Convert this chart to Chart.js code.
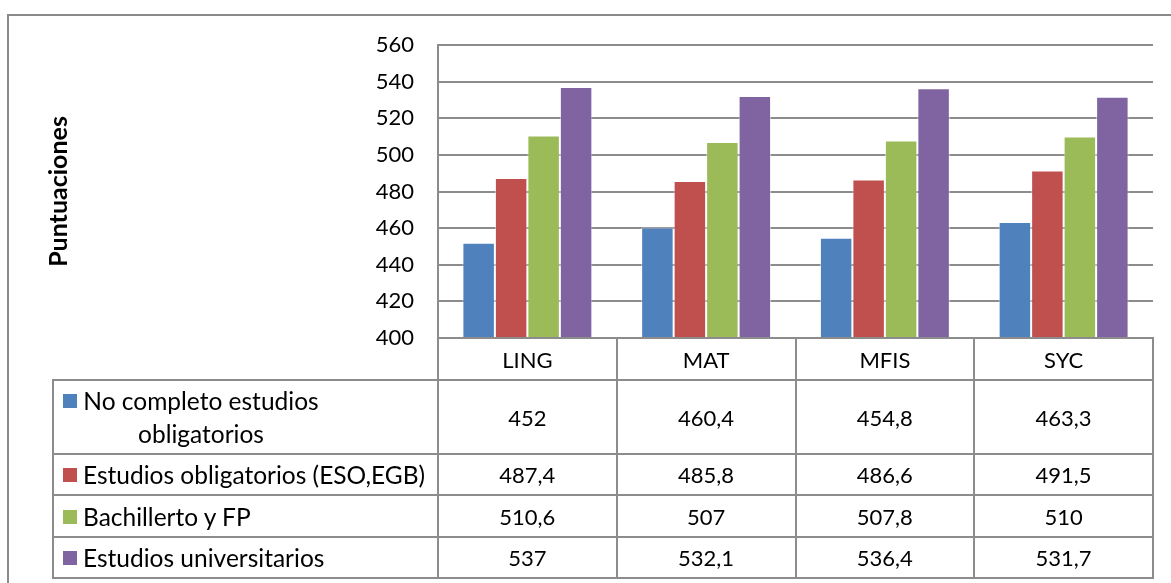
<!DOCTYPE html>
<html>
<head>
<meta charset="utf-8">
<script src="https://cdn.jsdelivr.net/npm/chart.js@4.4.1/dist/chart.umd.min.js"></script>
<style>
  html, body { margin: 0; padding: 0; background: #fff; overflow: hidden; }
  #wrap { position: relative; width: 1171px; height: 583px; overflow: hidden; font-family: Lato, sans-serif; }
  #frame { position: absolute; left: 7px; top: 14px; width: 1300px; height: 700px; border: 2px solid #8a8a8a; }
  #chart { position: absolute; left: 0; top: 0; }
  .cell { position: absolute; box-sizing: border-box; border: 2px solid #8c8c8c; display: flex; align-items: center; justify-content: center; font-size: 22px; color: #000; background: transparent; }
  .lab { justify-content: flex-start; padding-left: 9px; font-size: 24.5px; }
  .key { width: 14px; height: 14px; flex: none; margin-right: 6px; }
  .lab .inner { display: flex; align-items: flex-start; }
  .lab .inner .key { margin-top: 10px; }
  .lab .txt { display: inline-block; text-align: center; line-height: 33px; white-space: nowrap; }
  .lab .txt.wrap { white-space: normal; max-width: 236px; }
</style>
</head>
<body>
<div id="wrap">
  <div id="frame"></div>
  <canvas id="chart" width="1171" height="583"></canvas>
</div>
<script>
// data
const categories = ["LING", "MAT", "MFIS", "SYC"];
const seriesNames = [
  "No completo estudios obligatorios",
  "Estudios obligatorios (ESO,EGB)",
  "Bachillerto y FP",
  "Estudios universitarios"
];
const noCompleto = [452, 460.4, 454.8, 463.3];
const obligatorios = [487.4, 485.8, 486.6, 491.5];
const bachillerato = [510.6, 507, 507.8, 510];
const universitarios = [537, 532.1, 536.4, 531.7];
const seriesColors = ["#4F81BD", "#C0504D", "#9BBB59", "#8064A2"];
const yTicks = { min: 400, max: 560, step: 20 };

const seriesValues = [noCompleto, obligatorios, bachillerato, universitarios];
const gridGray = "#8c8c8c";

// table rows (top of header row is the axis line)
const rowHeights = [42, 74, 41, 42, 41];
const tableLeft = 53;

function fmt(v) {
  return String(v).replace(".", ",");
}

function buildTable(chart) {
  const wrap = document.getElementById("wrap");
  const area = chart.chartArea;
  const xs = chart.scales.x;
  const half = (xs.getPixelForValue(1) - xs.getPixelForValue(0)) / 2;

  const colEdges = [tableLeft, area.left];
  categories.forEach((c, i) => colEdges.push(xs.getPixelForValue(i) + half));
  colEdges[colEdges.length - 1] = area.right;

  const rowEdges = [area.bottom];
  rowHeights.forEach(h => rowEdges.push(rowEdges[rowEdges.length - 1] + h));

  function cell(r, c) {
    const d = document.createElement("div");
    d.className = "cell";
    d.style.left = (colEdges[c] - 1) + "px";
    d.style.top = (rowEdges[r] - 1) + "px";
    d.style.width = (colEdges[c + 1] - colEdges[c] + 2) + "px";
    d.style.height = (rowEdges[r + 1] - rowEdges[r] + 2) + "px";
    wrap.appendChild(d);
    return d;
  }

  // header row
  categories.forEach((c, i) => {
    cell(0, i + 1).textContent = c;
  });

  // series rows
  seriesNames.forEach((name, s) => {
    const lab = cell(s + 1, 0);
    lab.classList.add("lab");
    const inner = document.createElement("div");
    inner.className = "inner";
    const key = document.createElement("span");
    key.className = "key";
    key.style.background = seriesColors[s];
    const txt = document.createElement("span");
    txt.className = s === 0 ? "txt wrap" : "txt";
    txt.textContent = name;
    inner.appendChild(key);
    inner.appendChild(txt);
    lab.appendChild(inner);

    seriesValues[s].forEach((v, i) => {
      cell(s + 1, i + 1).textContent = fmt(v);
    });
  });
}

const ctx = document.getElementById("chart");
const chart = new Chart(ctx, {
  type: "bar",
  data: {
    labels: categories,
    datasets: seriesNames.map((name, s) => ({
      label: name,
      data: seriesValues[s],
      backgroundColor: seriesColors[s],
      borderColor: "rgba(255,255,255,0.55)",
      borderWidth: 1,
      categoryPercentage: 0.727,
      barPercentage: 1,
    })),
  },
  options: {
    responsive: false,
    animation: false,
    layout: { padding: { left: 0, top: 45, right: 18, bottom: 245 } },
    plugins: { legend: { display: false }, tooltip: { enabled: false } },
    scales: {
      x: {
        ticks: { display: false },
        grid: { display: false },
        border: { display: true, color: gridGray, width: 2 },
        afterFit: (scale) => { scale.height = 0; },
      },
      y: {
        min: yTicks.min,
        max: yTicks.max,
        ticks: {
          stepSize: yTicks.step,
          color: "#000",
          font: { family: "Lato", size: 22 },
          padding: 24,
        },
        grid: { color: gridGray, lineWidth: 2, drawTicks: false },
        border: { display: true, color: gridGray, width: 2 },
        title: {
          display: true,
          text: "Puntuaciones",
          color: "#000",
          font: { family: "Lato", size: 25, weight: "bold" },
          padding: { top: 44, bottom: 0 },
        },
        afterFit: (scale) => { scale.width = 438; },
      },
    },
  },
});

buildTable(chart);
</script>
</body>
</html>
